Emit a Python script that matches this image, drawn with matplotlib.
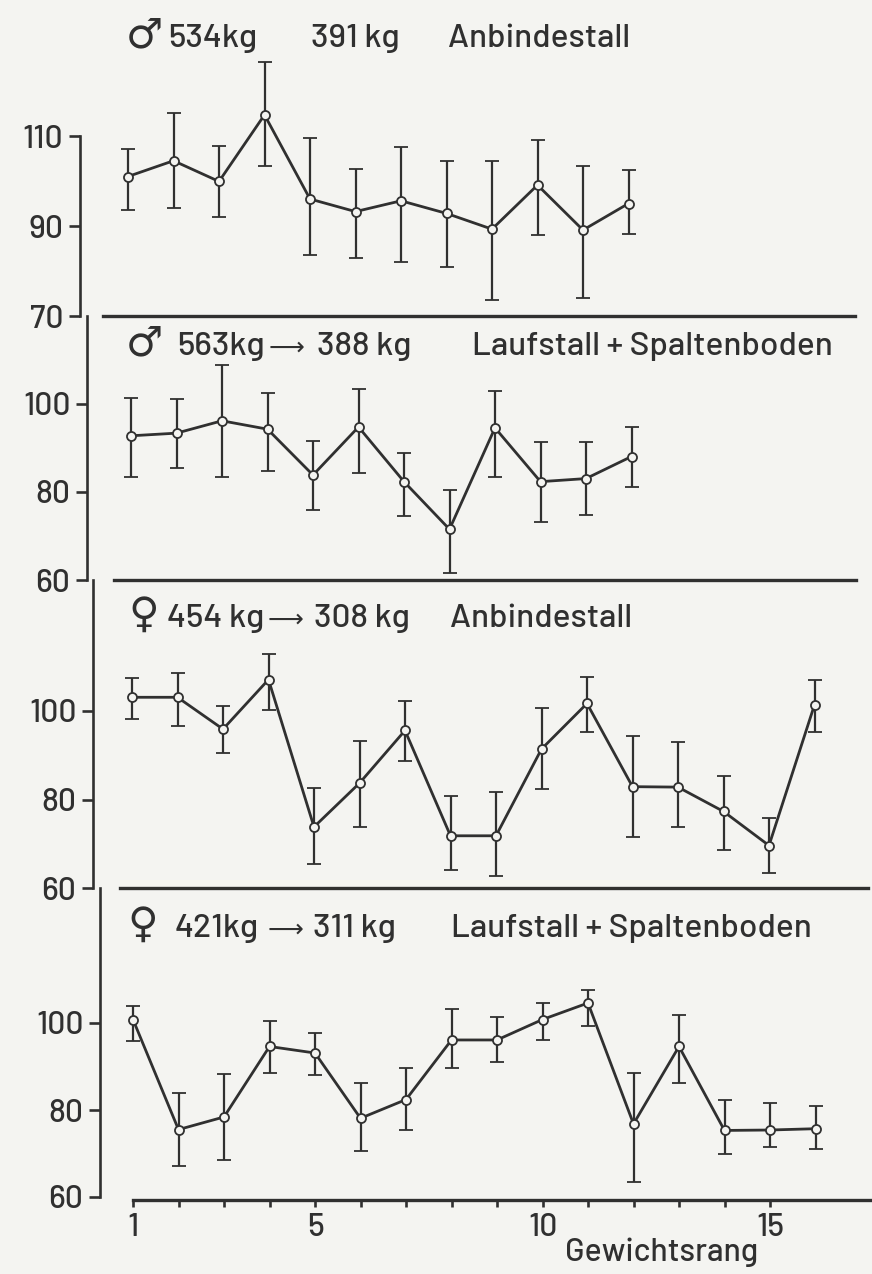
import numpy as np
import matplotlib
matplotlib.use("Agg")
import matplotlib.pyplot as plt
from matplotlib.ticker import FixedLocator, NullFormatter

# Data (mean with lower / upper end of the bar)
rank_12 = list(range(1, 13))
rank_16 = list(range(1, 17))

bull_tie_mean = [101.0, 104.5, 99.9, 114.7, 96.0, 93.2, 95.6, 92.8, 89.3, 99.1, 89.1, 95.0]
bull_tie_hi = [107.1, 115.2, 107.8, 126.4, 109.5, 102.6, 107.6, 104.5, 104.4, 109.1, 103.4, 102.4]
bull_tie_lo = [93.6, 93.9, 91.9, 103.4, 83.6, 82.8, 81.9, 80.8, 73.6, 87.9, 74.1, 88.2]

bull_slat_mean = [92.7, 93.3, 96.1, 94.2, 83.8, 94.7, 82.3, 71.5, 94.5, 82.3, 83.0, 88.0]
bull_slat_hi = [101.3, 101.1, 108.7, 102.4, 91.6, 103.4, 88.9, 80.4, 102.8, 91.4, 91.4, 94.7]
bull_slat_lo = [83.3, 85.3, 83.3, 84.7, 75.8, 84.3, 74.5, 61.5, 83.4, 73.2, 74.7, 81.0]

cow_tie_mean = [103.1, 103.1, 95.9, 107.1, 73.8, 83.7, 95.6, 71.8, 71.8, 91.4, 101.7, 82.9, 82.8, 77.3, 69.6, 101.4]
cow_tie_hi = [107.5, 108.6, 101.2, 112.9, 82.6, 93.2, 102.3, 80.8, 81.8, 100.6, 107.6, 94.4, 92.9, 85.3, 75.9, 107.1]
cow_tie_lo = [98.1, 96.6, 90.5, 100.2, 65.5, 73.8, 88.6, 64.1, 62.8, 82.4, 95.3, 71.5, 73.8, 68.5, 63.4, 95.2]

cow_slat_mean = [100.8, 75.5, 78.4, 94.6, 93.1, 78.1, 82.4, 96.1, 96.1, 100.8, 104.6, 76.8, 94.6, 75.3, 75.4, 75.7]
cow_slat_hi = [103.9, 83.8, 88.3, 100.5, 97.8, 86.1, 89.7, 103.2, 101.4, 104.6, 107.7, 88.6, 101.9, 82.2, 81.7, 80.9]
cow_slat_lo = [95.8, 67.2, 68.5, 88.4, 88.0, 70.5, 75.3, 89.6, 91.1, 96.0, 99.4, 63.5, 86.1, 69.9, 71.4, 71.0]

y_ticks = [[70, 90, 110], [60, 80, 100], [60, 80, 100], [60, 80, 100]]
x_ticks_labeled = [1, 5, 10, 15]
x_ticks_all = list(range(1, 16))

# title pieces: text, left edge (px), font size
titles = [
    [("♂", 126, 30), ("534kg", 168, 24), ("391 kg", 311, 24), ("Anbindestall", 448, 24)],
    [("♂", 126, 30), ("563kg", 177, 24), ("⟶", 269, 18), ("388 kg", 317, 24), ("Laufstall + Spaltenboden", 472, 24)],
    [("♀", 128, 30), ("454 kg", 167, 24), ("⟶", 268, 18), ("308 kg", 314, 24), ("Anbindestall", 450, 24)],
    [("♀", 127, 30), ("421kg", 175, 24), ("⟶", 268, 18), ("311 kg", 313, 24), ("Laufstall + Spaltenboden", 451, 24)],
]

W, H = 872, 1274
PX = 45.5  # pixels per rank
INK = "#303030"
PAPER = "#f4f4f1"
NUMFONT = ["Barlow", "DejaVu Sans"]
TXTFONT = ["Barlow", "DejaVu Sans"]
SYMFONT = ["DejaVu Sans"]

# per panel layout (pixels, the scan is slightly skewed)
panels = [
    dict(top=0, bottom=316, ylo=70, scale=4.5, x0=128, spine=80, sep=(103, 855), baseline=47,
         ser=(rank_12, bull_tie_mean, bull_tie_lo, bull_tie_hi), spine_top=110),
    dict(top=316, bottom=580, ylo=60, scale=4.41, x0=131, spine=87, sep=(114, 856), baseline=355,
         ser=(rank_12, bull_slat_mean, bull_slat_lo, bull_slat_hi), spine_top=None),
    dict(top=580, bottom=888, ylo=60, scale=4.425, x0=132, spine=93, sep=(120, 868), baseline=627,
         ser=(rank_16, cow_tie_mean, cow_tie_lo, cow_tie_hi), spine_top=None),
    dict(top=888, bottom=1200, ylo=60 - 3 / 4.35, scale=4.35, x0=133, spine=100, sep=(133, 872), baseline=937,
         ser=(rank_16, cow_slat_mean, cow_slat_lo, cow_slat_hi), spine_top=None),
]

fig = plt.figure(figsize=(W / 100, H / 100), dpi=100, facecolor=PAPER)

for i, p in enumerate(panels):
    h = p["bottom"] - p["top"]
    ax = fig.add_axes([0, 1 - p["bottom"] / H, 1, h / H])
    ax.set_facecolor("none")
    ax.set_xlim(1 - p["x0"] / PX, 1 + (W - p["x0"]) / PX)
    ax.set_ylim(p["ylo"], p["ylo"] + h / p["scale"])

    def px2x(px, p=p):
        return 1 + (px - p["x0"]) / PX

    x, m, lo, hi = p["ser"]
    m = np.array(m)
    yerr = [m - np.array(lo), np.array(hi) - m]
    ax.errorbar(x, m, yerr=yerr, color=INK, lw=2.0, elinewidth=1.6, capsize=5.2, capthick=2.4,
                marker="o", ms=6.5, mfc=PAPER, mec=INK, mew=1.3, zorder=3)

    for sp in ["top", "right"]:
        ax.spines[sp].set_visible(False)
    ax.spines["left"].set_position(("data", px2x(p["spine"])))
    ax.spines["left"].set_linewidth(1.9)
    ax.spines["left"].set_color(INK)
    ytop = p["spine_top"] if p["spine_top"] else p["ylo"] + h / p["scale"]
    ax.spines["left"].set_bounds(y_ticks[i][0], ytop)
    ax.spines["bottom"].set_bounds(px2x(p["sep"][0]), px2x(p["sep"][1]))
    ax.spines["bottom"].set_linewidth(2.4)
    ax.spines["bottom"].set_color(INK)

    ax.set_yticks(y_ticks[i])
    ax.set_yticklabels([str(t) for t in y_ticks[i]], family=NUMFONT, fontsize=23,
                       fontweight="medium", color=INK)
    ax.tick_params(axis="y", direction="out", length=8, width=1.9, color=INK, pad=4)

    if i == 3:
        ax.xaxis.set_major_locator(FixedLocator(x_ticks_labeled))
        ax.xaxis.set_minor_locator(FixedLocator([t for t in x_ticks_all if t not in x_ticks_labeled]))
        ax.xaxis.set_minor_formatter(NullFormatter())
        ax.set_xticklabels([str(t) for t in x_ticks_labeled], family=NUMFONT, fontsize=23,
                           fontweight="medium", color=INK)
        ax.tick_params(axis="x", which="both", direction="out", length=5, width=1.9, color=INK, pad=4)
    else:
        ax.set_xticks([])

    for txt, xpx, size in titles[i]:
        fam = SYMFONT if txt in ("♂", "♀", "⟶") else TXTFONT
        fig.text(xpx / W, 1 - p["baseline"] / H, txt, family=fam, fontsize=size, color=INK,
                 fontweight="medium" if fam is TXTFONT else "normal", ha="left", va="baseline")

fig.text(662 / W, 1 - 1261 / H, "Gewichtsrang", family=TXTFONT, fontsize=23, fontweight="medium",
         color=INK, ha="center", va="baseline")

fig.savefig("out.png", dpi=100, facecolor=PAPER)
